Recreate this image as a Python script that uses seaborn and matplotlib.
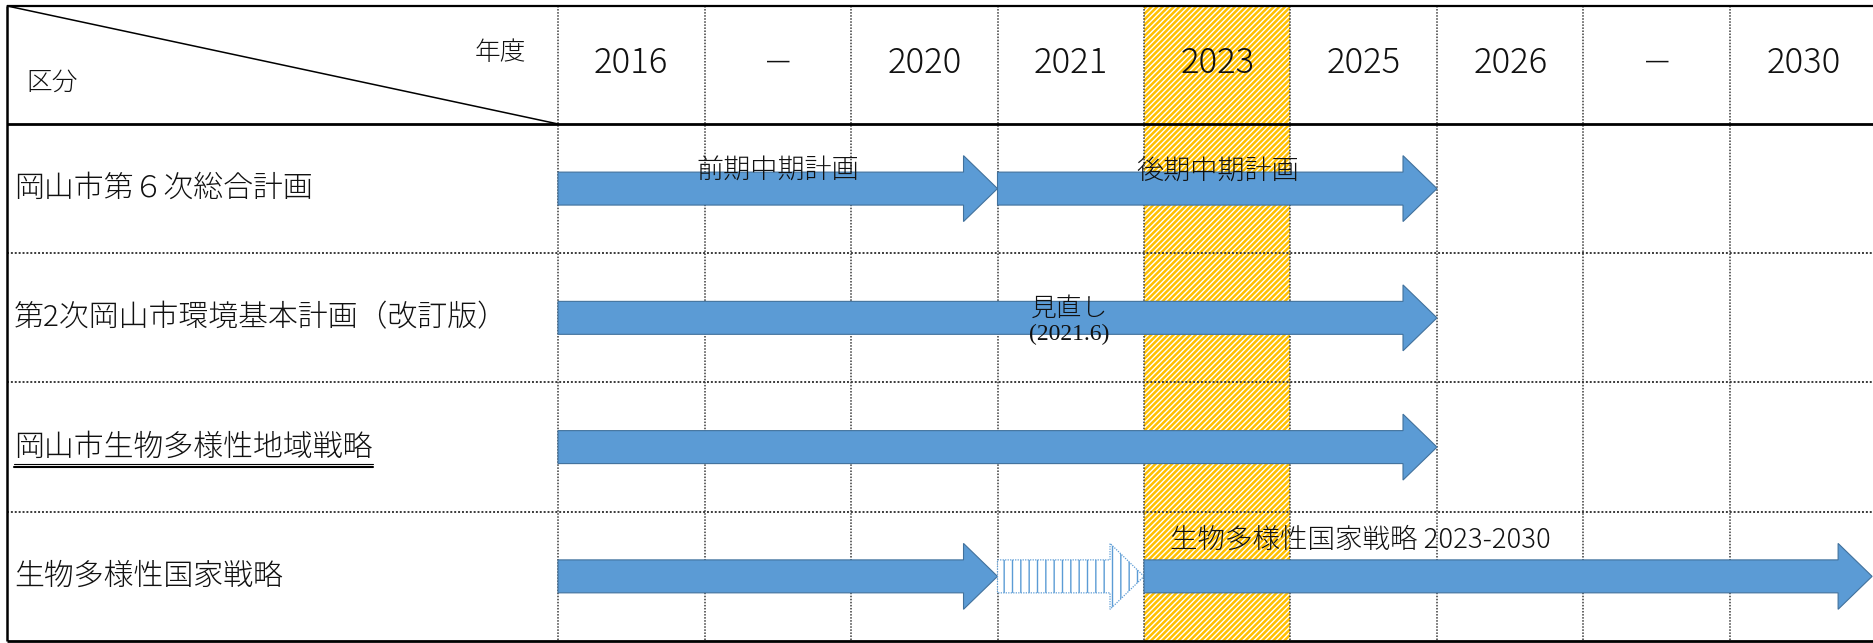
import matplotlib
matplotlib.use("Agg")
import matplotlib.pyplot as plt
import seaborn as sns
from matplotlib.patches import FancyArrow, Rectangle

# ---------------- data ----------------
years = ["2016", "－", "2020", "2021", "2023", "2025", "2026", "－", "2030"]
row_labels = ["岡山市第６次総合計画", "第2次岡山市環境基本計画（改訂版）",
              "岡山市生物多様性地域戦略", "生物多様性国家戦略"]
underlined_rows = [2]
highlight_year = "2023"
header_left = "区分"
header_right = "年度"

arrow_rows = [0, 0, 1, 2, 3, 3, 3]
arrow_start = [0, 3, 0, 0, 0, 3, 4]
arrow_end = [3, 6, 6, 6, 3, 4, 8.97]
arrow_kind = ["solid", "solid", "solid", "solid", "solid", "transition", "solid"]

note_text = ["前期中期計画", "後期中期計画", "見直し", "(2021.6)", "生物多様性国家戦略 2023-2030"]
note_row = [0, 0, 1, 1, 3]

# ---------------- layout / style ----------------
note_x = [1.5, 4.5, 3.49, 3.49, 4.18]
note_dy = [0.36, 0.36, 0.43, 0.63, 0.22]
note_ha = ["center", "center", "center", "center", "left"]
note_size = [19.5, 19.5, 18.5, 17, 19.8]
note_family = ["cjk", "cjk", "cjk", "serif", "cjk"]

sns.set_theme(style="white")
CJK = ["Noto Sans CJK JP", "DejaVu Sans"]
plt.rcParams["font.family"] = CJK
plt.rcParams["hatch.linewidth"] = 1.0

BLUE = "#5B9BD5"
BLUE_EDGE = "#41719C"
GOLD = "#FFC000"
DOT = "#3a3a3a"
TXT = "#111111"
WEIGHT = "light"

LABEL_W = 3.761       # label column width in column units
HEAD_H = 0.913        # header height in row units
n_cols = len(years)
n_rows = len(row_labels)

fig = plt.figure(figsize=(18.74, 6.43), dpi=100)
ax = fig.add_axes([0, 0, 1, 1])
ax.set_xlim(-3.809, 8.983)
ax.set_ylim(4.0155, -0.959)
ax.axis("off")

top = -HEAD_H
left = -LABEL_W

# highlight column
hc = years.index(highlight_year)
ax.add_patch(Rectangle((hc, top), 1, n_rows - top, facecolor=GOLD, edgecolor="white",
                       linewidth=0, hatch="//////", zorder=1))

# grid lines (dotted)
for c in range(n_cols + 1):
    ax.plot([c, c], [top, n_rows], color=DOT, lw=1.1, ls=(0, (1, 1)), zorder=2)
for r in range(1, n_rows):
    ax.plot([left, n_cols], [r, r], color=DOT, lw=1.4, ls=(0, (1, 1)), zorder=2)
# solid borders
ax.plot([left, n_cols], [top, top], color="black", lw=1.6, zorder=3, solid_capstyle="butt")
ax.plot([left, n_cols], [0, 0], color="black", lw=2.0, zorder=3, solid_capstyle="butt")
ax.plot([left, n_cols], [n_rows, n_rows], color="black", lw=2.0, zorder=3, solid_capstyle="butt")
ax.plot([left, left], [top, n_rows], color="black", lw=1.8, zorder=3, solid_capstyle="butt")
# header diagonal
ax.plot([left, 0], [top, 0], color="black", lw=1.1, zorder=3)

# header texts
ax.text(-0.396, -0.552, header_right, ha="center", va="center", fontsize=18.5,
        color=TXT, fontweight=WEIGHT, zorder=6)
ax.text(-3.454, -0.321, header_left, ha="center", va="center", fontsize=18.5,
        color=TXT, fontweight=WEIGHT, zorder=6)
for i, y in enumerate(years):
    fs = 22 if y == "－" else 25
    ax.text(i + 0.5, -0.47, y, ha="center", va="center", fontsize=fs,
            color=TXT, fontweight=WEIGHT, zorder=6)

# row labels
label_objs = []
for r, lab in enumerate(row_labels):
    t = ax.text(left + 0.048, r + 0.5, lab, ha="left", va="center", fontsize=21.5,
                color=TXT, fontweight=WEIGHT, zorder=6)
    label_objs.append(t)

# arrows
SHAFT = 0.255
HEADW = 0.51
HEADL = 0.232
for r, s, e, k in zip(arrow_rows, arrow_start, arrow_end, arrow_kind):
    if k == "solid":
        arr = FancyArrow(s, r + 0.5, e - s, 0, width=SHAFT, head_width=HEADW,
                         head_length=HEADL, length_includes_head=True,
                         facecolor=BLUE, edgecolor=BLUE_EDGE, linewidth=0.8, zorder=4)
    else:
        arr = FancyArrow(s, r + 0.5, e - s, 0, width=SHAFT, head_width=HEADW,
                         head_length=HEADL, length_includes_head=True,
                         facecolor="white", edgecolor=BLUE, linewidth=0.9,
                         linestyle=(0, (1, 1)), hatch="||", zorder=4)
    ax.add_patch(arr)

# notes
for txt, r, x, dy, ha, fs, fam in zip(note_text, note_row, note_x, note_dy, note_ha,
                                      note_size, note_family):
    if fam == "serif":
        ax.text(x, r + dy, txt, ha=ha, va="center", fontsize=fs,
                family=["Liberation Serif", "DejaVu Serif"], color=TXT, zorder=6)
    else:
        ax.text(x, r + dy, txt, ha=ha, va="center", fontsize=fs, family=CJK,
                fontweight=WEIGHT, color=TXT, zorder=6)

# double underline for underlined rows
fig.canvas.draw()
renderer = fig.canvas.get_renderer()
inv = ax.transData.inverted()
for r in underlined_rows:
    bb = label_objs[r].get_window_extent(renderer)
    (x0, _), (x1, _) = inv.transform([(bb.x0, bb.y0), (bb.x1, bb.y1)])
    ax.plot([x0, x1], [r + 0.5 + 0.127, r + 0.5 + 0.127], color="black", lw=0.8, zorder=6)
    ax.plot([x0, x1], [r + 0.5 + 0.153, r + 0.5 + 0.153], color="black", lw=1.5, zorder=6)

fig.savefig("out.png", dpi=100)
